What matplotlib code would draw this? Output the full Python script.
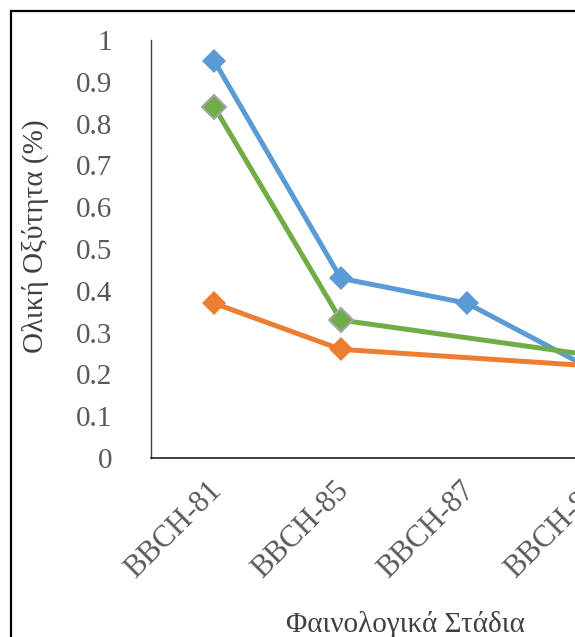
import matplotlib.pyplot as plt
import matplotlib.transforms as mtransforms
from matplotlib.patches import Rectangle

# data (None = no point at that stage)
stages = ['BBCH-81', 'BBCH-85', 'BBCH-87', 'BBCH-89']
blue_vals = [0.95, 0.43, 0.37, 0.21]
orange_vals = [0.37, 0.26, None, 0.22]
green_vals = [0.84, 0.33, None, 0.245]
yticks = [0, 0.1, 0.2, 0.3, 0.4, 0.5, 0.6, 0.7, 0.8, 0.9, 1]

plt.rcParams['font.family'] = ['Liberation Serif', 'DejaVu Serif']

W, H = 575, 637
fig = plt.figure(figsize=(W / 100, H / 100), dpi=100)
fig.patch.set_facecolor('white')

# axes run past the right edge of the picture (the original is cropped)
ax = fig.add_axes([151 / W, (H - 458) / H, 506 / W, 418 / H])


def series(vals, color, edge=None):
    xs = [i for i, v in enumerate(vals) if v is not None]
    ys = [v for v in vals if v is not None]
    ax.plot(xs, ys, color=color, lw=3.6, marker='D', markersize=12,
            markerfacecolor=color,
            markeredgecolor=edge if edge else color,
            markeredgewidth=1.5 if edge else 0, clip_on=False, zorder=3)


series(blue_vals, '#5B9BD5')
series(orange_vals, '#ED7D31')
series(green_vals, '#70AD47', edge='#A5A5A5')

ax.set_xlim(-0.5, len(stages) - 0.5)
ax.set_ylim(0, 1)
ax.set_yticks(yticks)
ax.set_yticklabels([f'{t:g}' for t in yticks])
ax.set_xticks(range(len(stages)))
ax.set_xticklabels(stages, rotation=45, ha='right', rotation_mode='anchor')

ax.tick_params(axis='y', length=0, pad=28, labelsize=21, labelcolor='#595959')
ax.tick_params(axis='x', length=0, pad=13, labelsize=22, labelcolor='#595959')

# nudge the slanted stage labels a little to the left
shift = mtransforms.ScaledTranslation(-7 / 100, 0, fig.dpi_scale_trans)
for lab in ax.get_xticklabels():
    lab.set_transform(lab.get_transform() + shift)

for s in ['top', 'right']:
    ax.spines[s].set_visible(False)
ax.spines['left'].set_color('#404040')
ax.spines['bottom'].set_color('#202020')
ax.spines['left'].set_linewidth(1.0)
ax.spines['bottom'].set_linewidth(1.2)

fig.text(35 / W, (H - 236) / H, 'Ολική Οξύτητα (%)', rotation=90,
         ha='center', va='center', fontsize=21, color='#404040')
fig.text(405 / W, (H - 632) / H, 'Φαινολογικά Στάδια', ha='center',
         va='baseline', fontsize=21, color='#404040')

# outer chart frame, also cut at the right and bottom
fig.add_artist(Rectangle((11 / W, -0.1), 1.2, (H - 11) / H + 0.1,
                         transform=fig.transFigure, fill=False,
                         edgecolor='black', lw=1.6))

fig.savefig('out.png', dpi=100)
